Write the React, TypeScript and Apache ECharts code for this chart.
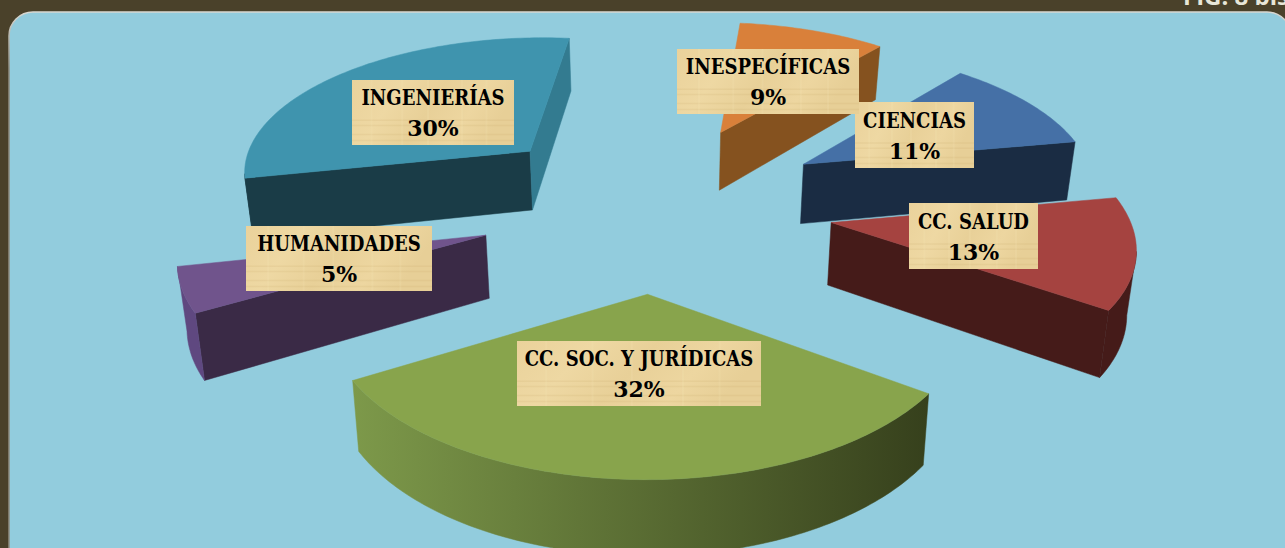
import React, { useEffect, useRef } from "react";
import * as echarts from "echarts";

const categories = ["INESPECÍFICAS", "CIENCIAS", "CC. SALUD", "CC. SOC. Y JURÍDICAS", "HUMANIDADES", "INGENIERÍAS"];
// the percentages printed on the labels
const labelPercents = [9, 11, 13, 32, 5, 30];
// the shares as the slices are actually drawn
const sliceShares = [9.5, 11, 12.5, 32, 5, 30];
const topColors = ["#d9803a", "#4570a6", "#a54340", "#88a44c", "#70548c", "#3f94ae"];
const startWallColors = ["#85521f", "#1a2c43", "#451b19", "#5f7135", "#3a2a46", "#1a3c47"];
const endWallColors = ["#85521f", "#1a2c43", "#451b19", "#5f7135", "#3a2a46", "#337b90"];
const outerColors = [
  ["#85521f", "#85521f"],
  ["#1a2c43", "#1a2c43"],
  ["#451b19", "#451b19"],
  ["#7d994a", "#36401c"],
  ["#5f4880", "#5f4880"],
  ["#1a3c47", "#1a3c47"],
];
const labelBoxes = [
  [677, 49, 182, 65],
  [855, 102, 119, 66],
  [909, 203, 129, 66],
  [517, 341, 244, 65],
  [246, 226, 186, 65],
  [352, 80, 162, 65],
];
const drawOrder = [0, 1, 2, 5, 4, 3];
const grainRows = [0.62, 0.7, 0.84, 0.93];
const grainCols = [0.12, 0.31, 0.47, 0.68, 0.83];

const START_ANGLE = 6;
const EXPLODE = 0.6;
const PERSPECTIVE = 0.12;
const CX = 655.5;
const CY = 204.5;
const RX = 295;
const RY = 139;
const DEPTH = 61.5;
const BASE_SHRINK = 0.98;

const rad = (d: number) => (d * Math.PI) / 180;
const total = sliceShares.reduce((a, b) => a + b, 0);
const spans = sliceShares.map((_, i) => {
  const before = sliceShares.slice(0, i).reduce((a, b) => a + b, 0);
  return [START_ANGLE + (before / total) * 360, START_ANGLE + ((before + sliceShares[i]) / total) * 360];
});

function project(X: number, Y: number, down: boolean): number[] {
  const s = 1 / (1 + PERSPECTIVE * Y);
  const dx = X * RX * s * (down ? BASE_SHRINK : 1);
  return [CX + dx, CY - Y * RY * s + (down ? DEPTH * s : 0)];
}

function sliceFaces(i: number) {
  const [a, b] = spans[i];
  const mid = rad((a + b) / 2);
  const ax = EXPLODE * Math.sin(mid);
  const ay = EXPLODE * Math.cos(mid);
  const rim = (deg: number) => [ax + Math.sin(rad(deg)), ay + Math.cos(rad(deg))];
  const viewerY = -1 / PERSPECTIVE;
  const faces = (nx: number, ny: number, px: number, py: number) =>
    nx * (0 - px) + ny * (viewerY - py) > 0;

  const out: any[] = [];
  const poly = (points: number[][], fill: any) =>
    out.push({ type: "polygon", shape: { points }, style: { fill, stroke: fill, lineWidth: 0.5 } });

  const wall = (deg: number, normalDeg: number, color: string) => {
    if (!faces(Math.sin(rad(normalDeg)), Math.cos(rad(normalDeg)), ax, ay)) return;
    const [tx, ty] = rim(deg);
    poly([project(ax, ay, false), project(tx, ty, false), project(tx, ty, true), project(ax, ay, true)], color);
  };
  wall(a, a - 90, startWallColors[i]);
  wall(b, b + 90, endWallColors[i]);

  const upper: number[][] = [];
  const lower: number[][] = [];
  const top: number[][] = [project(ax, ay, false)];
  const steps = Math.ceil(b - a);
  for (let k = 0; k <= steps; k++) {
    const deg = a + ((b - a) * k) / steps;
    const [x, y] = rim(deg);
    top.push(project(x, y, false));
    if (faces(Math.sin(rad(deg)), Math.cos(rad(deg)), x, y)) {
      upper.push(project(x, y, false));
      lower.push(project(x, y, true));
    }
  }
  if (upper.length > 1) {
    const [c0, c1] = outerColors[i];
    poly(
      upper.concat(lower.reverse()),
      new echarts.graphic.LinearGradient(0, 0, 1, 0, [
        { offset: 0, color: c0 },
        { offset: 1, color: c1 },
      ])
    );
  }
  poly(top, topColors[i]);
  return out;
}

const parchment = () =>
  new echarts.graphic.LinearGradient(0, 0, 1, 0.25, [
    { offset: 0, color: "#ead29b" },
    { offset: 0.3, color: "#eed8a3" },
    { offset: 0.55, color: "#e8d098" },
    { offset: 0.8, color: "#edd6a0" },
    { offset: 1, color: "#e7cf97" },
  ]);

function labelParts(i: number) {
  const [x, y, w, h] = labelBoxes[i];
  const parts: any[] = [{ type: "rect", shape: { x, y, width: w, height: h }, style: { fill: parchment() } }];
  grainRows.forEach((f) =>
    parts.push({
      type: "line",
      shape: { x1: x, y1: y + h * f, x2: x + w, y2: y + h * f },
      style: { stroke: "rgba(190,160,90,0.12)", lineWidth: 1.5 },
    })
  );
  grainCols.forEach((f) =>
    parts.push({
      type: "line",
      shape: { x1: x + w * f, y1: y, x2: x + w * f, y2: y + h },
      style: { stroke: "rgba(250,235,190,0.15)", lineWidth: 2 },
    })
  );
  const font = "bold 22px 'DejaVu Serif'";
  parts.push({
    type: "text",
    x: x + w / 2,
    y: y + h / 2 - 15,
    scaleX: 0.82,
    style: { text: categories[i], font, fill: "#000", align: "center", verticalAlign: "middle" },
  });
  parts.push({
    type: "text",
    x: x + w / 2,
    y: y + h / 2 + 15.5,
    style: { text: `${labelPercents[i]}%`, font, fill: "#000", align: "center", verticalAlign: "middle" },
  });
  return parts;
}

export default function App() {
  const ref = useRef<HTMLDivElement>(null);
  useEffect(() => {
    document.body.style.margin = "0";
    const chart = echarts.init(ref.current!, undefined, { renderer: "svg" });
    chart.setOption({
      animation: false,
      backgroundColor: "#4a412a",
      graphic: [
        {
          type: "rect",
          z: -10,
          shape: { x: 9, y: 12, width: 1282, height: 570, r: 24 },
          style: {
            fill: "#92ccdd",
            stroke: new echarts.graphic.LinearGradient(0, 0, 0, 1, [
              { offset: 0, color: "#d8d8d2" },
              { offset: 0.1, color: "#8f8c80" },
              { offset: 1, color: "#8f8c80" },
            ]),
            lineWidth: 1.5,
          },
        },
        {
          type: "text",
          z: -9,
          x: 1183,
          y: 7,
          style: {
            text: "FIG. 8 bis",
            font: "bold 24px 'Open Sans'",
            fill: "#e8e6d8",
            verticalAlign: "bottom",
          },
        },
      ],
      series: [
        {
          type: "custom",
          coordinateSystem: "none",
          z: 2,
          silent: true,
          data: drawOrder,
          renderItem: (p: any) => ({ type: "group", children: sliceFaces(drawOrder[p.dataIndex]) }),
        },
        {
          type: "custom",
          coordinateSystem: "none",
          z: 3,
          silent: true,
          data: [5, 4, 3, 2, 1, 0],
          renderItem: (_p: any, api: any) => ({ type: "group", children: labelParts(api.value(0)) }),
        },
      ],
    });
    return () => chart.dispose();
  }, []);
  return <div ref={ref} style={{ position: "absolute", left: 0, top: 0, width: 1285, height: 548 }} />;
}
